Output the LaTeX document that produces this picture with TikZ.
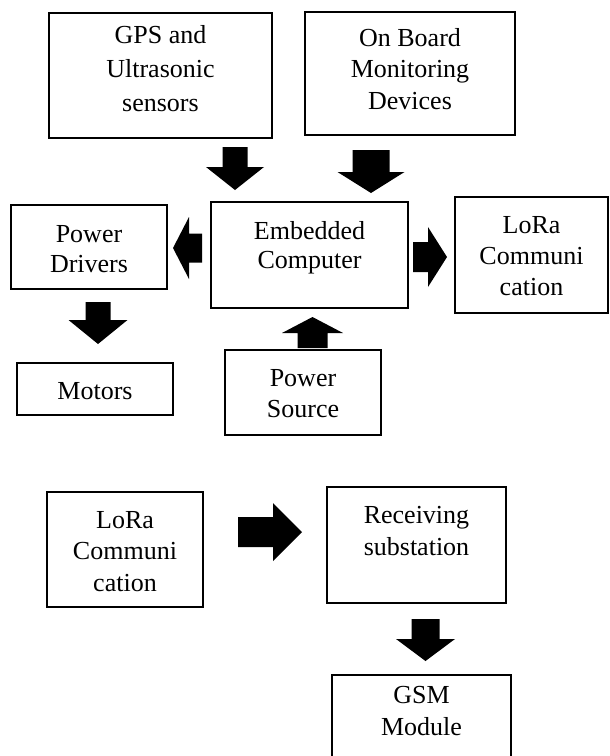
\documentclass[tikz,border=0pt]{standalone}
\usepackage{fontspec}
\setmainfont{Liberation Serif}
\newcommand\mlines[1]{\begin{tabular}[t]{@{}c@{}}#1\end{tabular}}
% vertical block arrow: cx, start y, head-base y, tip y, shaft half width, head half width
\newcommand\varrowblk[6]{\fill[black] (#1-#5,#2) -- (#1+#5,#2) -- (#1+#5,#3) -- (#1+#6,#3) -- (#1,#4) -- (#1-#6,#3) -- (#1-#5,#3) -- cycle;}
% horizontal block arrow: cy, start x, head-base x, tip x, shaft half height, head half height
\newcommand\harrowblk[6]{\fill[black] (#2,#1-#5) -- (#2,#1+#5) -- (#3,#1+#5) -- (#3,#1+#6) -- (#4,#1) -- (#3,#1-#6) -- (#3,#1-#5) -- cycle;}
\begin{document}
\begin{tikzpicture}[x=1pt,y=-1pt,
  box/.style={draw=black, line width=1.3pt, inner sep=0pt},
  txt/.style={anchor=base, inner sep=0pt, font=\fontsize{26}{31}\selectfont}]
\useasboundingbox (0,0) rectangle (610,756);
\clip (0,0) rectangle (610,756);
\fill[white] (0,0) rectangle (610,756);

% boxes
\node[box, minimum width=223pt, minimum height=125pt] (gps) at (160.5,75.5) {};
\node[box, minimum width=210pt, minimum height=123pt] (obm) at (410,73.5) {};
\node[box, minimum width=156pt, minimum height=84pt] (pd) at (89,247) {};
\node[box, minimum width=197pt, minimum height=106pt] (emb) at (309.5,255) {};
\node[box, minimum width=153pt, minimum height=116pt] (lora1) at (531.5,255) {};
\node[box, minimum width=156pt, minimum height=52pt] (mot) at (95,389) {};
\node[box, minimum width=156pt, minimum height=85pt] (ps) at (303,392.5) {};
\node[box, minimum width=156pt, minimum height=115pt] (lora2) at (125,549.5) {};
\node[box, minimum width=179pt, minimum height=116pt] (rec) at (416.5,545) {};
\node[box, minimum width=179pt, minimum height=115pt] (gsm) at (421.5,732.5) {};

% texts
\node[txt, font=\fontsize{26}{34}\selectfont] (gpst) at (160.5,43) {\mlines{GPS and\\Ultrasonic\\sensors}};
\node[txt, font=\fontsize{26}{31.5}\selectfont] (obmt) at (410,46) {\mlines{On Board\\Monitoring\\Devices}};
\node[txt, font=\fontsize{26}{30}\selectfont] (pdt) at (89,242) {\mlines{Power\\Drivers}};
\node[txt, font=\fontsize{26}{29.5}\selectfont] (embt) at (309.5,239) {\mlines{Embedded\\Computer}};
\node[txt] (lora1t) at (531.5,233) {\mlines{LoRa\\Communi\\cation}};
\node[txt] (mott) at (95,399) {Motors};
\node[txt] (pst) at (303,386) {\mlines{Power\\Source}};
\node[txt, font=\fontsize{26}{31.5}\selectfont] (lora2t) at (125,528) {\mlines{LoRa\\Communi\\cation}};
\node[txt, font=\fontsize{26}{32}\selectfont] (rect) at (416.5,523) {\mlines{Receiving\\substation}};
\node[txt, font=\fontsize{26}{32}\selectfont] (gsmt) at (421.5,703) {\mlines{GSM\\Module}};

% block arrows
\varrowblk{235}{147}{167}{190}{12.5}{29}
\varrowblk{371}{150}{172}{193}{18.5}{33.5}
\harrowblk{248}{202}{189}{173}{14.5}{31}
\harrowblk{257}{413}{428}{447}{15}{30}
\varrowblk{98}{302}{320}{344}{12.5}{29.5}
\varrowblk{312.5}{348}{333}{317}{15}{30.5}
\harrowblk{532}{238}{273}{302}{15}{29}
\varrowblk{425.5}{619}{639}{661}{14}{29.5}
\end{tikzpicture}
\end{document}
